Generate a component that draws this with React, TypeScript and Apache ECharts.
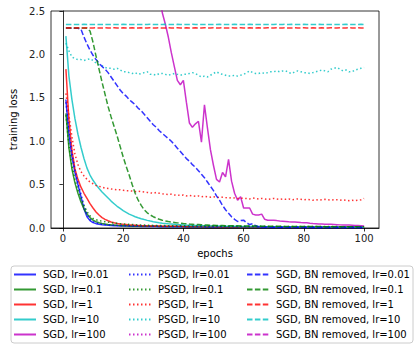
import React, { useEffect, useRef } from "react";
import * as echarts from "echarts";

const xTicks = [0, 20, 40, 60, 80, 100];
const yTicks = [0, 0.5, 1, 1.5, 2, 2.5];

const sgd001 = [1.48,1.08,0.82,0.64,0.50,0.36,0.22,0.13,0.085,0.062,0.05,0.043,0.038,0.034,0.031,0.029,0.027,0.025,0.024,0.023,
0.022,0.021,0.020,0.020,0.019,0.018,0.018,0.017,0.017,0.016,0.016,0.015,0.015,0.015,0.014,0.014,0.014,0.013,0.013,0.013,
0.012,0.012,0.012,0.011,0.011,0.011,0.011,0.010,0.010,0.010,0.010,0.010,0.009,0.009,0.009,0.009,0.009,0.009,0.008,0.008,
0.008,0.008,0.008,0.008,0.008,0.007,0.007,0.007,0.007,0.007,0.007,0.007,0.007,0.007,0.007,0.006,0.006,0.006,0.006,0.006,
0.006,0.006,0.006,0.006,0.006,0.006,0.006,0.006,0.006,0.006,0.006,0.005,0.005,0.005,0.005,0.005,0.005,0.005,0.005,0.005];
const sgd01 = [1.32,0.92,0.68,0.52,0.40,0.30,0.22,0.16,0.12,0.09,0.072,0.06,0.052,0.046,0.041,0.037,0.034,0.031,0.029,0.027,
0.026,0.025,0.024,0.023,0.022,0.021,0.021,0.020,0.020,0.019,0.019,0.018,0.018,0.017,0.017,0.017,0.016,0.016,0.016,0.015,
0.015,0.015,0.015,0.014,0.014,0.014,0.014,0.013,0.013,0.013,0.013,0.013,0.012,0.012,0.012,0.012,0.012,0.012,0.011,0.011,
0.011,0.011,0.011,0.011,0.011,0.011,0.010,0.010,0.010,0.010,0.010,0.010,0.010,0.010,0.010,0.010,0.009,0.009,0.009,0.009,
0.009,0.009,0.009,0.009,0.009,0.009,0.009,0.009,0.009,0.008,0.008,0.008,0.008,0.008,0.008,0.008,0.008,0.008,0.008,0.008];
const sgd1 = [1.83,1.25,0.90,0.68,0.56,0.47,0.40,0.34,0.28,0.23,0.185,0.15,0.12,0.10,0.083,0.07,0.06,0.052,0.046,0.042,
0.039,0.036,0.034,0.032,0.030,0.028,0.027,0.025,0.024,0.023,0.022,0.022,0.021,0.021,0.020,0.020,0.019,0.019,0.019,0.018,
0.018,0.018,0.017,0.017,0.017,0.017,0.016,0.016,0.016,0.016,0.015,0.015,0.015,0.015,0.015,0.015,0.014,0.014,0.014,0.014,
0.014,0.014,0.014,0.013,0.013,0.013,0.013,0.013,0.013,0.013,0.013,0.013,0.013,0.012,0.012,0.012,0.012,0.012,0.012,0.012,
0.012,0.012,0.012,0.012,0.012,0.012,0.012,0.012,0.012,0.012,0.012,0.012,0.012,0.012,0.012,0.012,0.012,0.012,0.012,0.012];
const sgd10 = [2.21,1.75,1.48,1.26,1.08,0.93,0.80,0.69,0.61,0.55,0.50,0.455,0.415,0.38,0.345,0.31,0.28,0.25,0.225,0.20,
0.18,0.16,0.145,0.13,0.118,0.107,0.097,0.088,0.08,0.073,0.067,0.061,0.056,0.052,0.048,0.045,0.042,0.039,0.037,0.035,
0.033,0.032,0.030,0.029,0.028,0.027,0.026,0.025,0.024,0.023,0.022,0.022,0.021,0.021,0.020,0.020,0.019,0.019,0.018,0.018,
0.017,0.017,0.017,0.016,0.016,0.016,0.015,0.015,0.015,0.015,0.014,0.014,0.014,0.014,0.013,0.013,0.013,0.013,0.013,0.012,
0.012,0.012,0.012,0.012,0.012,0.011,0.011,0.011,0.011,0.011,0.011,0.011,0.010,0.010,0.010,0.010,0.010,0.010,0.010,0.010];
const sgd100 = [null,null,null,null,null,null,null,null,null,null,null,null,null,null,null,null,null,null,null,null,
null,null,null,null,null,null,null,null,null,null,3.0,2.72,2.48,2.35,2.20,2.02,1.86,1.70,1.65,1.70,
1.45,1.21,1.16,1.20,1.23,0.99,1.42,1.15,0.90,0.72,0.56,0.53,0.64,0.59,0.79,0.54,0.40,0.32,0.36,0.23,
0.23,0.23,0.16,0.15,0.15,0.16,0.10,0.09,0.09,0.088,0.085,0.08,0.078,0.075,0.072,0.07,0.07,0.066,0.062,0.06,
0.06,0.055,0.052,0.05,0.046,0.045,0.044,0.043,0.042,0.04,0.038,0.036,0.035,0.034,0.034,0.033,0.03,0.028,0.025,0.022];

const psgd001 = [1.45,1.12,0.86,0.67,0.52,0.39,0.26,0.16,0.10,0.072,0.058,0.05,0.044,0.04,0.037,0.034,0.032,0.03,0.029,0.028,
0.027,0.026,0.025,0.024,0.023,0.023,0.022,0.022,0.021,0.021,0.020,0.020,0.019,0.019,0.019,0.018,0.018,0.018,0.017,0.017,
0.017,0.017,0.016,0.016,0.016,0.016,0.015,0.015,0.015,0.015,0.015,0.014,0.014,0.014,0.014,0.014,0.014,0.013,0.013,0.013,
0.013,0.013,0.013,0.013,0.013,0.012,0.012,0.012,0.012,0.012,0.012,0.012,0.012,0.012,0.012,0.012,0.011,0.011,0.011,0.011,
0.011,0.011,0.011,0.011,0.011,0.011,0.011,0.011,0.011,0.011,0.010,0.010,0.010,0.010,0.010,0.010,0.010,0.010,0.010,0.010];
const psgd01 = [1.30,0.95,0.72,0.56,0.44,0.34,0.26,0.19,0.14,0.11,0.095,0.085,0.078,0.072,0.067,0.062,0.058,0.054,0.05,0.047,
0.045,0.043,0.041,0.039,0.037,0.035,0.034,0.033,0.031,0.030,0.029,0.029,0.028,0.028,0.027,0.027,0.026,0.026,0.025,0.025,
0.025,0.024,0.024,0.024,0.023,0.023,0.023,0.022,0.022,0.022,0.022,0.021,0.021,0.021,0.021,0.021,0.020,0.020,0.020,0.020,
0.020,0.019,0.019,0.019,0.019,0.019,0.019,0.018,0.018,0.018,0.018,0.018,0.018,0.018,0.017,0.017,0.017,0.017,0.017,0.017,
0.017,0.017,0.016,0.016,0.016,0.016,0.016,0.016,0.016,0.016,0.016,0.015,0.015,0.015,0.015,0.015,0.015,0.015,0.015,0.015];
const psgd1 = [1.55,1.30,1.05,0.85,0.73,0.65,0.60,0.56,0.53,0.51,0.49,0.48,0.47,0.46,0.455,0.45,0.445,0.44,0.44,0.435,
0.43,0.43,0.425,0.42,0.425,0.42,0.415,0.41,0.405,0.40,0.41,0.40,0.395,0.39,0.385,0.39,0.38,0.38,0.375,0.38,
0.37,0.375,0.37,0.365,0.37,0.36,0.365,0.36,0.355,0.36,0.355,0.35,0.355,0.35,0.345,0.35,0.345,0.34,0.345,0.34,
0.34,0.335,0.345,0.34,0.335,0.34,0.335,0.33,0.335,0.34,0.335,0.33,0.335,0.33,0.335,0.325,0.33,0.335,0.33,0.325,
0.33,0.325,0.32,0.325,0.32,0.325,0.33,0.325,0.32,0.325,0.325,0.32,0.325,0.32,0.315,0.32,0.315,0.32,0.325,0.34];
const psgd10 = [2.13,2.04,1.97,1.95,1.94,1.94,1.93,1.94,1.95,1.93,1.90,1.88,1.87,1.85,1.84,1.84,1.83,1.84,1.82,1.80,
1.80,1.79,1.78,1.79,1.77,1.78,1.79,1.80,1.77,1.77,1.76,1.78,1.78,1.77,1.76,1.77,1.78,1.77,1.76,1.77,
1.77,1.78,1.79,1.78,1.76,1.74,1.75,1.74,1.76,1.78,1.80,1.78,1.77,1.76,1.75,1.75,1.76,1.75,1.76,1.77,
1.79,1.81,1.79,1.78,1.78,1.79,1.78,1.79,1.80,1.80,1.81,1.80,1.81,1.81,1.79,1.78,1.80,1.81,1.80,1.79,
1.79,1.78,1.79,1.80,1.81,1.82,1.81,1.80,1.83,1.84,1.85,1.83,1.81,1.82,1.80,1.80,1.82,1.83,1.84,1.85];
const psgd100: (number | null)[] = [];

const bn001 = [2.303,2.303,2.302,2.302,2.301,2.29,2.20,2.12,2.05,1.99,1.94,1.90,1.86,1.83,1.79,1.74,1.69,1.64,1.59,1.55,
1.52,1.48,1.45,1.42,1.38,1.35,1.31,1.27,1.23,1.19,1.16,1.12,1.09,1.06,1.03,1.00,0.96,0.92,0.88,0.84,
0.80,0.77,0.73,0.70,0.66,0.62,0.58,0.53,0.48,0.43,0.37,0.32,0.26,0.21,0.17,0.13,0.10,0.075,0.085,0.09,
0.06,0.04,0.05,0.025,0.015,0.012,0.011,0.010,0.010,0.010,0.009,0.009,0.009,0.009,0.008,0.008,0.008,0.008,0.008,0.008,
0.007,0.007,0.007,0.007,0.007,0.007,0.007,0.007,0.006,0.006,0.006,0.006,0.006,0.006,0.006,0.006,0.006,0.006,0.005,0.005];
const bn01 = [2.304,2.304,2.304,2.303,2.303,2.303,2.303,2.302,2.27,2.14,1.98,1.83,1.68,1.54,1.40,1.28,1.17,1.06,0.94,0.82,
0.71,0.61,0.50,0.40,0.32,0.26,0.21,0.175,0.15,0.13,0.115,0.10,0.09,0.082,0.075,0.069,0.064,0.059,0.055,0.051,
0.048,0.045,0.043,0.041,0.039,0.037,0.035,0.034,0.032,0.031,0.030,0.029,0.028,0.027,0.027,0.026,0.025,0.025,0.024,0.024,
0.023,0.023,0.022,0.022,0.021,0.021,0.021,0.020,0.020,0.020,0.019,0.019,0.019,0.018,0.018,0.018,0.018,0.017,0.017,0.017,
0.017,0.016,0.016,0.016,0.016,0.016,0.015,0.015,0.015,0.015,0.015,0.015,0.014,0.014,0.014,0.014,0.014,0.014,0.014,0.014];
const bn1 = [2.305,2.306,2.305,2.305,2.306,2.305,2.305,2.306,2.305,2.305,2.306,2.305,2.305,2.306,2.305,2.305,2.306,2.305,2.305,2.306,
2.305,2.305,2.306,2.305,2.305,2.306,2.305,2.305,2.306,2.305,2.305,2.306,2.305,2.305,2.306,2.305,2.305,2.306,2.305,2.305,
2.306,2.305,2.305,2.306,2.305,2.305,2.306,2.305,2.305,2.306,2.305,2.305,2.306,2.305,2.305,2.306,2.305,2.305,2.306,2.305,
2.305,2.306,2.305,2.305,2.306,2.305,2.305,2.306,2.305,2.305,2.306,2.305,2.305,2.306,2.305,2.305,2.306,2.305,2.305,2.306,
2.305,2.305,2.306,2.305,2.305,2.306,2.305,2.305,2.306,2.305,2.305,2.306,2.305,2.305,2.306,2.305,2.305,2.306,2.305,2.305];
const bn10 = [2.345,2.344,2.346,2.345,2.344,2.345,2.346,2.344,2.345,2.345,2.346,2.344,2.345,2.345,2.344,2.346,2.345,2.344,2.345,2.346,
2.345,2.344,2.345,2.346,2.345,2.344,2.345,2.345,2.346,2.344,2.345,2.345,2.344,2.346,2.345,2.344,2.345,2.346,2.345,2.344,
2.345,2.345,2.346,2.344,2.345,2.345,2.344,2.346,2.345,2.344,2.345,2.346,2.345,2.344,2.345,2.345,2.346,2.344,2.345,2.345,
2.344,2.346,2.345,2.344,2.345,2.346,2.345,2.344,2.345,2.345,2.346,2.344,2.345,2.347,2.344,2.346,2.345,2.344,2.345,2.346,
2.345,2.344,2.345,2.345,2.346,2.344,2.345,2.345,2.344,2.346,2.345,2.344,2.345,2.346,2.345,2.344,2.345,2.345,2.346,2.344];
const bn100: (number | null)[] = [];

const colors = ["#0000ff", "#008000", "#ff0000", "#00bfbf", "#bf00bf"];
const lrs = ["0.01", "0.1", "1", "10", "100"];
const groups = [
  { prefix: "SGD", dash: "solid" as any, data: [sgd001, sgd01, sgd1, sgd10, sgd100] },
  { prefix: "PSGD", dash: [1.5, 2.5], data: [psgd001, psgd01, psgd1, psgd10, psgd100] },
  { prefix: "SGD, BN removed", dash: [5.5, 2.4], data: [bn001, bn01, bn1, bn10, bn100] },
];

export default function App() {
  const ref = useRef<HTMLDivElement>(null);
  useEffect(() => {
    document.body.style.margin = "0";
    const chart = echarts.init(ref.current!, undefined, { renderer: "svg" });
    const font = "DejaVu Sans";
    const series: any[] = [];
    const legends: any[] = [];
    const legendX = [13, 128, 246];
    groups.forEach((g, gi) => {
      const names: string[] = [];
      g.data.forEach((arr, i) => {
        const name = `${g.prefix}, lr=${lrs[i]}`;
        names.push(name);
        series.push({
          name,
          type: "line",
          symbol: "none",
          clip: true,
          color: colors[i],
          lineStyle: { width: 1.5, type: g.dash, color: colors[i], opacity: 0.8 },
          data: arr.map((v, k) => [k + 1, v == null ? "-" : v]),
        });
      });
      legends.push({
        orient: "vertical",
        left: legendX[gi],
        top: 267,
        itemWidth: 22,
        itemHeight: 10,
        itemGap: 0,
        padding: 0,
        data: names,
        itemStyle: { opacity: 0 },
        textStyle: { fontFamily: font, fontSize: 10, color: "#000", lineHeight: 15, height: 15, padding: [0, 0, 0, 2] },
      });
    });
    chart.setOption({
      animation: false,
      backgroundColor: "#fff",
      textStyle: { fontFamily: font },
      grid: { left: 44, top: 11, right: 41, bottom: 122, show: true, borderColor: "#000", borderWidth: 0.8 },
      xAxis: {
        type: "value",
        min: -3.95,
        max: 104.95,
        name: "epochs",
        nameLocation: "middle",
        nameGap: 20,
        nameTextStyle: { fontFamily: font, fontSize: 10, color: "#000" },
        axisLine: { show: true, lineStyle: { color: "#000", width: 0.8 } },
        axisTick: { show: true, length: 3.5, lineStyle: { color: "#000", width: 0.8 }, customValues: xTicks },
        axisLabel: { customValues: xTicks, fontFamily: font, fontSize: 10, color: "#222", margin: 5 },
        splitLine: { show: false },
      },
      yAxis: {
        type: "value",
        min: 0,
        max: 2.5,
        interval: 0.5,
        name: "training loss",
        nameLocation: "middle",
        nameGap: 33,
        nameTextStyle: { fontFamily: font, fontSize: 10, color: "#000" },
        axisLine: { show: true, lineStyle: { color: "#000", width: 0.8 } },
        axisTick: { show: true, length: 3.5, lineStyle: { color: "#000", width: 0.8 }, customValues: yTicks },
        axisLabel: { customValues: yTicks, fontFamily: font, fontSize: 10, color: "#222", margin: 6, formatter: (v: number) => v.toFixed(1) },
        splitLine: { show: false },
      },
      legend: legends,
      graphic: [
        {
          type: "rect",
          z: 0,
          shape: { x: 11, y: 266, width: 402, height: 77, r: 3 },
          style: { fill: "#fff", stroke: "#cccccc", lineWidth: 1 },
        },
      ],
      series,
    });
    return () => chart.dispose();
  }, []);
  return <div ref={ref} style={{ width: 420, height: 350 }} />;
}
